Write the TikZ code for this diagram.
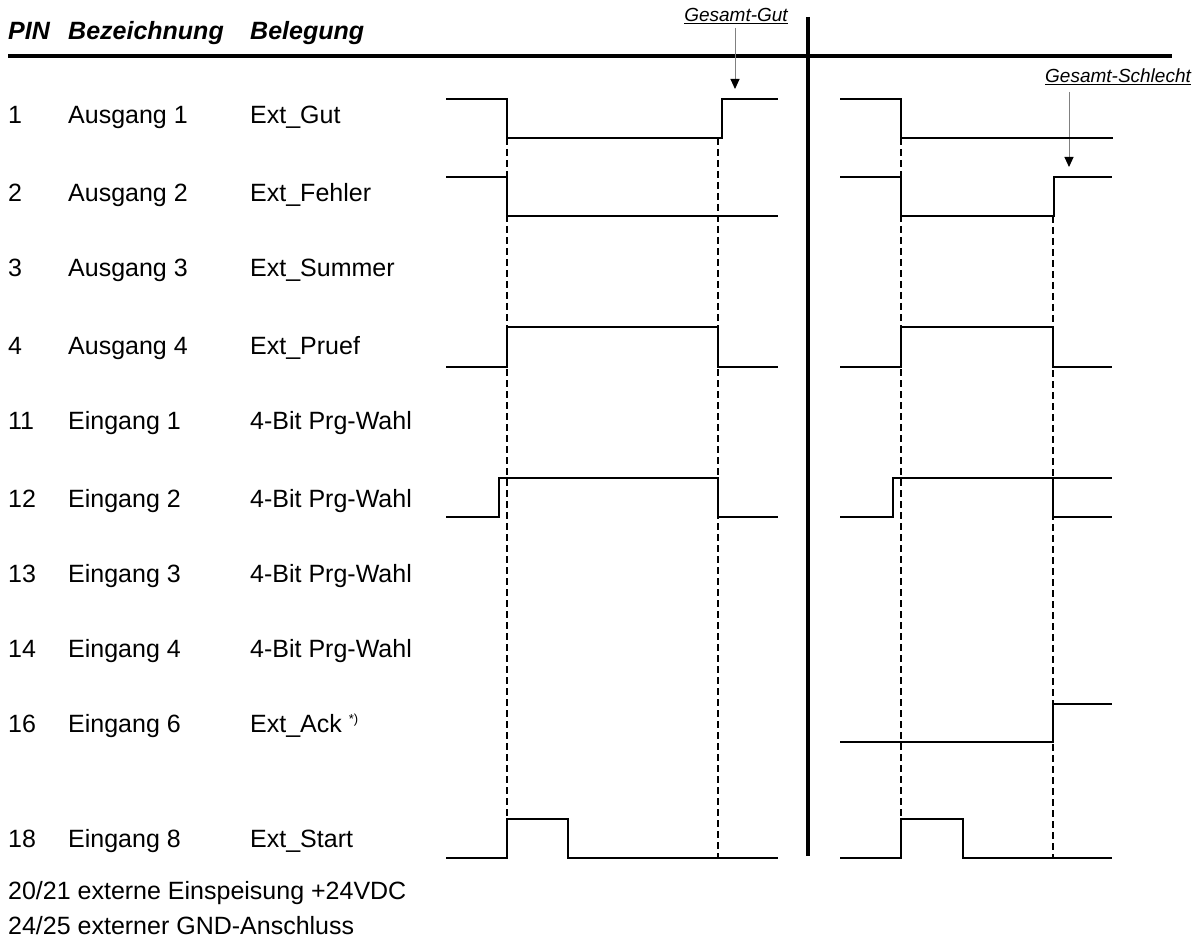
\documentclass[tikz,border=0pt]{standalone}
\usepackage{fontspec}
\setmainfont{Liberation Sans}
\usetikzlibrary{arrows.meta}
\begin{document}
\begin{tikzpicture}[x=1pt,y=-1pt,
  txt/.style={anchor=base west,inner sep=0pt,font=\fontsize{25}{30}\selectfont},
  hdr/.style={anchor=base west,inner sep=0pt,font=\fontsize{25}{30}\selectfont\bfseries\itshape},
  lbl/.style={anchor=base,inner sep=0pt,font=\fontsize{19}{22}\selectfont\itshape},
  sig/.style={line width=2pt},
  guide/.style={line width=2pt,dash pattern=on 7pt off 4pt},
  rulestyle/.style={line width=3.5pt},
  pointer/.style={gray,line width=1pt,-{Triangle[width=9pt,length=10pt,color=black,fill=black]}}]
\useasboundingbox (0,0) rectangle (1199,941);

% header
\node[hdr] (hpin) at (8,40) {PIN};
\node[hdr] (hbez) at (68,40) {Bezeichnung};
\node[hdr] (hbel) at (250,40) {Belegung};
\coordinate (rl) at (8,56);
\coordinate (rr) at (1172,56);
\draw[rulestyle] (rl) -- (rr);
\coordinate (dt) at (808,17);
\coordinate (db) at (808,856);
\draw[rulestyle] (dt) -- (db);

% table rows
\foreach \p/\n/\b/\y [count=\i] in {1/Ausgang 1/Ext\_Gut/124,
  2/Ausgang 2/Ext\_Fehler/202,
  3/Ausgang 3/Ext\_Summer/277,
  4/Ausgang 4/Ext\_Pruef/354,
  11/Eingang 1/4-Bit Prg-Wahl/429,
  12/Eingang 2/4-Bit Prg-Wahl/507,
  13/Eingang 3/4-Bit Prg-Wahl/582,
  14/Eingang 4/4-Bit Prg-Wahl/657,
  18/Eingang 8/Ext\_Start/847}{
  \node[txt] (pin\i) at (8,\y) {\p};
  \node[txt] (bez\i) at (68,\y) {\n};
  \node[txt] (bel\i) at (250,\y) {\b};
}
\node[txt] (pin16) at (8,732) {16};
\node[txt] (bez16) at (68,732) {Eingang 6};
\node[txt] (bel16) at (250,732) {Ext\_Ack \raisebox{9pt}{\fontsize{13}{13}\selectfont *)}};
\node[txt] (pwr) at (8,899) {20/21 externe Einspeisung +24VDC};
\node[txt] (gnd) at (8,934) {24/25 externer GND-Anschluss};

% labels with pointers
\node[lbl] (gg) at (736,22) {\underline{Gesamt-Gut}};
\coordinate (ggfrom) at (735,28);
\coordinate (ggto) at (735,89);
\draw[pointer] (ggfrom) -- (ggto);
\node[lbl] (gs) at (1118,83) {\underline{Gesamt-Schlecht}};
\coordinate (gsfrom) at (1069,92);
\coordinate (gsto) at (1069,167);
\draw[pointer] (gsfrom) -- (gsto);

% guides
\draw[guide] (507,138) -- (507,819);
\draw[guide] (718,138) -- (718,858);
\draw[guide] (901,138) -- (901,819);
\draw[guide] (1053,216) -- (1053,858);

% waveforms left
\draw[sig] (446,99) -- (507,99) -- (507,138) -- (722,138) -- (722,99) -- (778,99);
\draw[sig] (446,177) -- (507,177) -- (507,216) -- (778,216);
\draw[sig] (446,367) -- (507,367) -- (507,327) -- (718,327) -- (718,367) -- (778,367);
\draw[sig] (446,517) -- (499,517) -- (499,478) -- (718,478) -- (718,517) -- (778,517);
\draw[sig] (446,858) -- (507,858) -- (507,819) -- (568,819) -- (568,858) -- (778,858);

% waveforms right
\draw[sig] (840,99) -- (901,99) -- (901,138) -- (1113,138);
\draw[sig] (840,177) -- (901,177) -- (901,216) -- (1054,216) -- (1054,177) -- (1112,177);
\draw[sig] (840,367) -- (901,367) -- (901,327) -- (1053,327) -- (1053,367) -- (1112,367);
\draw[sig] (840,517) -- (893,517) -- (893,478) -- (1112,478);
\draw[sig] (1053,478) -- (1053,517) -- (1112,517);
\draw[sig] (840,742) -- (1053,742) -- (1053,704) -- (1112,704);
\draw[sig] (840,858) -- (901,858) -- (901,819) -- (963,819) -- (963,858) -- (1112,858);
\end{tikzpicture}
\end{document}
